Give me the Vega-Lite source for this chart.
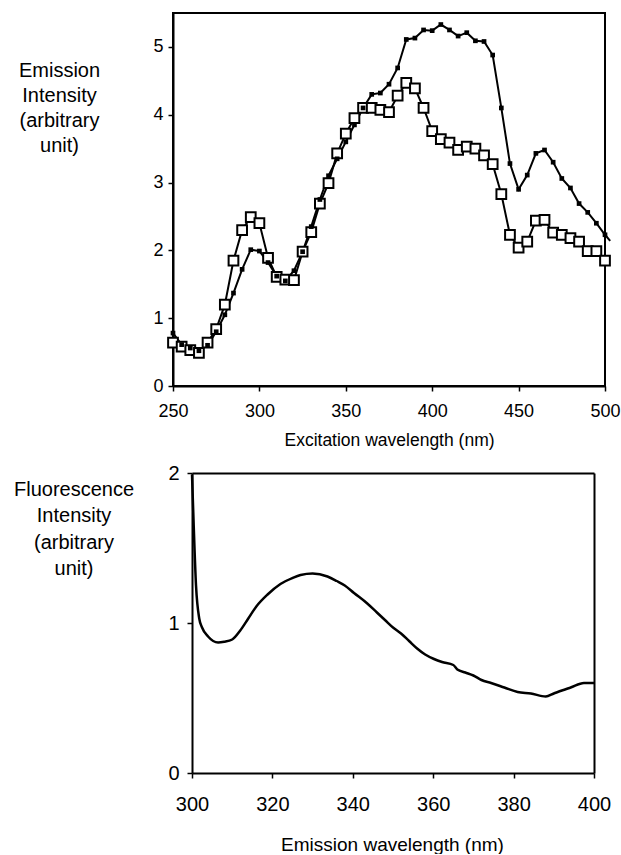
{
  "$schema": "https://vega.github.io/schema/vega-lite/v6.json",
  "padding": {"left": 13, "top": 12, "right": 0, "bottom": 0},
  "background": "white",
  "config": {
    "view": {"stroke": "black", "strokeWidth": 2},
    "axis": {
      "domainColor": "black", "domainWidth": 2,
      "tickColor": "black", "tickWidth": 1.5, "tickSize": 5,
      "grid": false,
      "labelColor": "black", "titleColor": "black",
      "labelFont": "Liberation Sans", "titleFont": "Liberation Sans",
      "titleFontWeight": "normal"
    }
  },
  "datasets": {
    "excitation": [
      {"wl": 250, "v": 0.78, "s": "A"}, {"wl": 255, "v": 0.61, "s": "A"}, {"wl": 260, "v": 0.56, "s": "A"},
      {"wl": 265, "v": 0.52, "s": "A"}, {"wl": 270, "v": 0.60, "s": "A"}, {"wl": 275, "v": 0.80, "s": "A"},
      {"wl": 280, "v": 1.05, "s": "A"}, {"wl": 285, "v": 1.37, "s": "A"}, {"wl": 290, "v": 1.72, "s": "A"},
      {"wl": 295, "v": 2.01, "s": "A"}, {"wl": 300, "v": 1.99, "s": "A"}, {"wl": 305, "v": 1.82, "s": "A"},
      {"wl": 310, "v": 1.62, "s": "A"}, {"wl": 315, "v": 1.55, "s": "A"}, {"wl": 320, "v": 1.70, "s": "A"},
      {"wl": 325, "v": 1.98, "s": "A"}, {"wl": 330, "v": 2.35, "s": "A"}, {"wl": 335, "v": 2.75, "s": "A"},
      {"wl": 340, "v": 3.10, "s": "A"}, {"wl": 345, "v": 3.35, "s": "A"}, {"wl": 350, "v": 3.60, "s": "A"},
      {"wl": 355, "v": 3.85, "s": "A"}, {"wl": 360, "v": 4.10, "s": "A"}, {"wl": 365, "v": 4.30, "s": "A"},
      {"wl": 370, "v": 4.32, "s": "A"}, {"wl": 375, "v": 4.45, "s": "A"}, {"wl": 380, "v": 4.69, "s": "A"},
      {"wl": 385, "v": 5.11, "s": "A"}, {"wl": 390, "v": 5.13, "s": "A"}, {"wl": 395, "v": 5.25, "s": "A"},
      {"wl": 400, "v": 5.24, "s": "A"}, {"wl": 405, "v": 5.33, "s": "A"}, {"wl": 410, "v": 5.25, "s": "A"},
      {"wl": 415, "v": 5.16, "s": "A"}, {"wl": 420, "v": 5.21, "s": "A"}, {"wl": 425, "v": 5.09, "s": "A"},
      {"wl": 430, "v": 5.08, "s": "A"}, {"wl": 435, "v": 4.88, "s": "A"}, {"wl": 440, "v": 4.10, "s": "A"},
      {"wl": 445, "v": 3.28, "s": "A"}, {"wl": 450, "v": 2.90, "s": "A"}, {"wl": 455, "v": 3.11, "s": "A"},
      {"wl": 460, "v": 3.43, "s": "A"}, {"wl": 465, "v": 3.48, "s": "A"}, {"wl": 470, "v": 3.30, "s": "A"},
      {"wl": 475, "v": 3.06, "s": "A"}, {"wl": 480, "v": 2.92, "s": "A"}, {"wl": 485, "v": 2.69, "s": "A"},
      {"wl": 490, "v": 2.56, "s": "A"}, {"wl": 495, "v": 2.40, "s": "A"}, {"wl": 500, "v": 2.23, "s": "A"},
      {"wl": 503, "v": 2.14, "s": "A"},
      {"wl": 250, "v": 0.64, "s": "B"}, {"wl": 255, "v": 0.58, "s": "B"}, {"wl": 260, "v": 0.53, "s": "B"},
      {"wl": 265, "v": 0.49, "s": "B"}, {"wl": 270, "v": 0.64, "s": "B"}, {"wl": 275, "v": 0.84, "s": "B"},
      {"wl": 280, "v": 1.20, "s": "B"}, {"wl": 285, "v": 1.85, "s": "B"}, {"wl": 290, "v": 2.30, "s": "B"},
      {"wl": 295, "v": 2.49, "s": "B"}, {"wl": 300, "v": 2.40, "s": "B"}, {"wl": 305, "v": 1.89, "s": "B"},
      {"wl": 310, "v": 1.61, "s": "B"}, {"wl": 315, "v": 1.57, "s": "B"}, {"wl": 320, "v": 1.56, "s": "B"},
      {"wl": 325, "v": 1.98, "s": "B"}, {"wl": 330, "v": 2.27, "s": "B"}, {"wl": 335, "v": 2.69, "s": "B"},
      {"wl": 340, "v": 2.99, "s": "B"}, {"wl": 345, "v": 3.43, "s": "B"}, {"wl": 350, "v": 3.72, "s": "B"},
      {"wl": 355, "v": 3.95, "s": "B"}, {"wl": 360, "v": 4.10, "s": "B"}, {"wl": 365, "v": 4.10, "s": "B"},
      {"wl": 370, "v": 4.07, "s": "B"}, {"wl": 375, "v": 4.04, "s": "B"}, {"wl": 380, "v": 4.28, "s": "B"},
      {"wl": 385, "v": 4.47, "s": "B"}, {"wl": 390, "v": 4.39, "s": "B"}, {"wl": 395, "v": 4.10, "s": "B"},
      {"wl": 400, "v": 3.76, "s": "B"}, {"wl": 405, "v": 3.64, "s": "B"}, {"wl": 410, "v": 3.59, "s": "B"},
      {"wl": 415, "v": 3.48, "s": "B"}, {"wl": 420, "v": 3.53, "s": "B"}, {"wl": 425, "v": 3.50, "s": "B"},
      {"wl": 430, "v": 3.40, "s": "B"}, {"wl": 435, "v": 3.27, "s": "B"}, {"wl": 440, "v": 2.83, "s": "B"},
      {"wl": 445, "v": 2.23, "s": "B"}, {"wl": 450, "v": 2.04, "s": "B"}, {"wl": 455, "v": 2.13, "s": "B"},
      {"wl": 460, "v": 2.44, "s": "B"}, {"wl": 465, "v": 2.45, "s": "B"}, {"wl": 470, "v": 2.26, "s": "B"},
      {"wl": 475, "v": 2.23, "s": "B"}, {"wl": 480, "v": 2.18, "s": "B"}, {"wl": 485, "v": 2.13, "s": "B"},
      {"wl": 490, "v": 1.99, "s": "B"}, {"wl": 495, "v": 1.99, "s": "B"}, {"wl": 500, "v": 1.85, "s": "B"}
    ],
    "emission": [
      {"wl": 300, "v": 1.99}, {"wl": 300.4, "v": 1.67}, {"wl": 301, "v": 1.25}, {"wl": 301.8, "v": 1.03},
      {"wl": 302.5, "v": 0.97}, {"wl": 304, "v": 0.91}, {"wl": 306.5, "v": 0.87}, {"wl": 308, "v": 0.875},
      {"wl": 310, "v": 0.89}, {"wl": 312, "v": 0.95}, {"wl": 314, "v": 1.03}, {"wl": 316, "v": 1.11},
      {"wl": 318.8, "v": 1.19}, {"wl": 322, "v": 1.26}, {"wl": 325, "v": 1.30}, {"wl": 327, "v": 1.32},
      {"wl": 330, "v": 1.33}, {"wl": 333.7, "v": 1.31}, {"wl": 336, "v": 1.28}, {"wl": 338, "v": 1.25},
      {"wl": 340.3, "v": 1.20}, {"wl": 343.6, "v": 1.13}, {"wl": 346, "v": 1.07}, {"wl": 348, "v": 1.02},
      {"wl": 350, "v": 0.97}, {"wl": 352, "v": 0.93}, {"wl": 354, "v": 0.88}, {"wl": 356, "v": 0.83},
      {"wl": 358, "v": 0.79}, {"wl": 360.2, "v": 0.76}, {"wl": 362.2, "v": 0.74}, {"wl": 365, "v": 0.72},
      {"wl": 366, "v": 0.69}, {"wl": 368, "v": 0.67}, {"wl": 370, "v": 0.65}, {"wl": 372, "v": 0.62},
      {"wl": 374.4, "v": 0.60}, {"wl": 377.7, "v": 0.57}, {"wl": 381, "v": 0.54}, {"wl": 384.3, "v": 0.53},
      {"wl": 388, "v": 0.51}, {"wl": 390, "v": 0.53}, {"wl": 392, "v": 0.55}, {"wl": 394.2, "v": 0.57},
      {"wl": 397.5, "v": 0.60}, {"wl": 400, "v": 0.60}
    ]
  },
  "vconcat": [
    {
      "width": 432,
      "height": 373,
      "data": {"name": "excitation"},
      "encoding": {
        "x": {
          "field": "wl", "type": "quantitative",
          "scale": {"domain": [250, 500], "nice": false, "zero": false},
          "axis": {
            "values": [250, 300, 350, 400, 450, 500],
            "labelFontSize": 18, "labelPadding": 11, "labelFlush": false,
            "title": "Excitation wavelength (nm)", "titleFontSize": 17.5,
            "titleY": 59, "titleBaseline": "alphabetic"
          }
        },
        "y": {
          "field": "v", "type": "quantitative",
          "scale": {"domain": [0, 5.5], "nice": false},
          "axis": {
            "values": [0, 1, 2, 3, 4, 5],
            "labelFontSize": 18, "labelPadding": 5,
            "title": ["Emission", "Intensity", "(arbitrary", "unit)"],
            "titleFontSize": 20, "titleLineHeight": 25, "titleAngle": 0,
            "titleAlign": "center", "titleBaseline": "middle",
            "titleX": -114, "titleY": 57
          }
        }
      },
      "layer": [
        {
          "mark": {"type": "line", "color": "black", "strokeWidth": 2},
          "encoding": {"detail": {"field": "s", "type": "nominal"}}
        },
        {
          "transform": [{"filter": "datum.s === 'B'"}],
          "mark": {"type": "square", "size": 95, "filled": true, "fill": "white", "stroke": "black", "strokeWidth": 2, "opacity": 1}
        },
        {
          "transform": [{"filter": "datum.s === 'A' && datum.wl <= 500"}],
          "mark": {"type": "square", "size": 22, "filled": true, "color": "black", "opacity": 1}
        }
      ]
    },
    {
      "width": 421,
      "height": 300,
      "data": {"name": "emission"},
      "view": {"stroke": null},
      "layer": [
        {
          "mark": {"type": "line", "color": "black", "strokeWidth": 2.5, "interpolate": "monotone"},
          "encoding": {
            "x": {
              "field": "wl", "type": "quantitative",
              "scale": {"domain": [300, 400], "nice": false, "zero": false, "range": [19, 421]},
              "axis": {
                "values": [300, 320, 340, 360, 380, 400],
                "labelFontSize": 20, "labelPadding": 16, "labelFlush": false,
                "title": "Emission wavelength (nm)", "titleFontSize": 19,
                "titleX": 219, "titleY": 77, "titleBaseline": "alphabetic"
              }
            },
            "y": {
              "field": "v", "type": "quantitative",
              "scale": {"domain": [0, 2], "nice": false},
              "axis": {
                "values": [0, 1, 2], "format": ".0f", "offset": -19,
                "labelFontSize": 20, "labelPadding": 8,
                "title": ["Fluorescence", "Intensity", "(arbitrary", "unit)"],
                "titleFontSize": 20, "titleLineHeight": 26.5, "titleAngle": 0,
                "titleAlign": "center", "titleBaseline": "middle",
                "titleX": -118.5, "titleY": 16
              }
            }
          }
        },
        {
          "mark": {"type": "line", "strokeOpacity": 0, "interpolate": "monotone"},
          "encoding": {
            "x": {
              "field": "wl", "type": "quantitative",
              "axis": {"orient": "top", "labels": false, "ticks": false, "title": null, "domainWidth": 2}
            },
            "y": {
              "field": "v", "type": "quantitative",
              "axis": {"orient": "right", "labels": false, "ticks": false, "title": null, "domainWidth": 2}
            }
          }
        }
      ],
      "resolve": {"axis": {"x": "independent", "y": "independent"}}
    }
  ],
  "spacing": 13
}
